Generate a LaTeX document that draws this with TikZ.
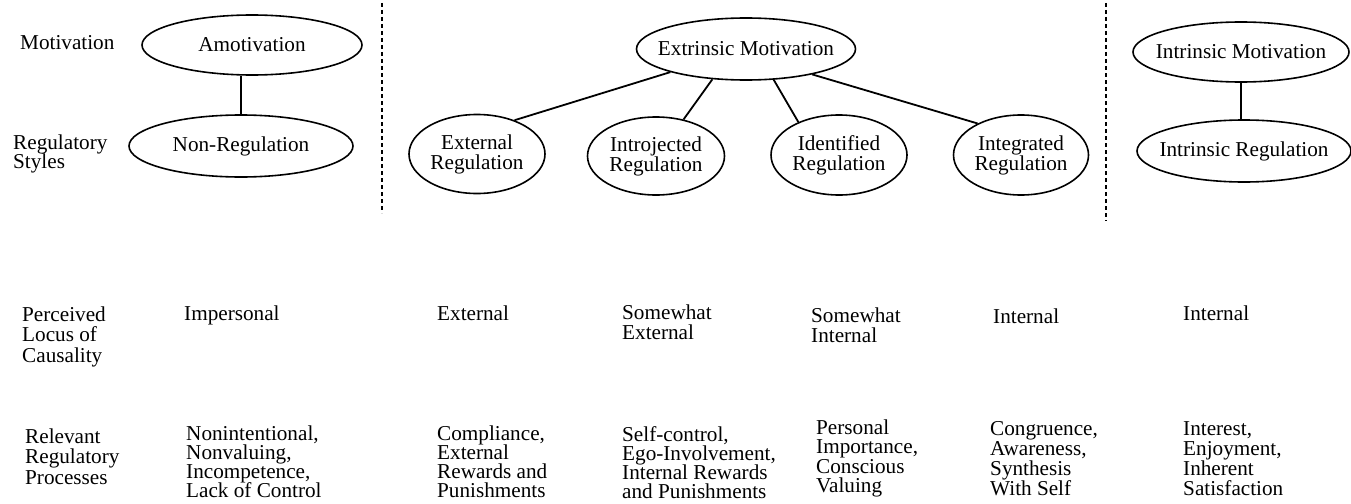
\documentclass[tikz,border=0pt]{standalone}
\usepackage{fontspec}
\setmainfont{Liberation Serif}
\usetikzlibrary{shapes.geometric}
\newcommand{\stkl}[2]{\vtop{\baselineskip=#1pt\lineskiplimit=-100pt\lineskip=0pt\halign{##\hfil\cr#2\crcr}}}
\newcommand{\stkc}[2]{\vtop{\baselineskip=#1pt\lineskiplimit=-100pt\lineskip=0pt\halign{\hfil##\hfil\cr#2\crcr}}}
\begin{document}
\begin{tikzpicture}[x=1pt,y=-1pt,
  every node/.style={inner sep=0pt, font=\fontsize{21.2}{20}\selectfont},
  oval/.style={ellipse, draw, line width=1.6pt},
  txt/.style={anchor=base west},
  link/.style={line width=1.8pt},
  sep/.style={line width=1.2pt, dash pattern=on 4pt off 3pt}]
\useasboundingbox (0,0) rectangle (1351,503);
% separators
\coordinate (s1a) at (382,3);
\coordinate (s1b) at (382,213);
\coordinate (s2a) at (1106,3);
\coordinate (s2b) at (1106,221);
\draw[sep] (s1a) -- (s1b);
\draw[sep] (s2a) -- (s2b);
% ellipses
\node[oval, minimum width=220pt, minimum height=60pt] (am) at (252,45) {\makebox[0pt]{Amotivation}};
\node[oval, minimum width=224pt, minimum height=62pt] (nr) at (241,146) {\makebox[0pt]{Non-Regulation}};
\node[oval, minimum width=219pt, minimum height=62pt] (em) at (746,49) {\makebox[0pt]{Extrinsic Motivation}};
\node[oval, minimum width=136pt, minimum height=79pt] (ext) at (477,154) {\makebox[0pt]{\stkc{20}{External\cr Regulation}}};
\node[oval, minimum width=137pt, minimum height=78pt] (intro) at (656,156) {\makebox[0pt]{\stkc{20}{Introjected\cr Regulation}}};
\node[oval, minimum width=136pt, minimum height=80pt] (ident) at (839,155) {\makebox[0pt]{\stkc{20}{Identified\cr Regulation}}};
\node[oval, minimum width=135pt, minimum height=80pt] (integ) at (1021,155) {\makebox[0pt]{\stkc{20}{Integrated\cr Regulation}}};
\node[oval, minimum width=216pt, minimum height=60pt] (im) at (1241,52) {\makebox[0pt]{Intrinsic Motivation}};
\node[oval, minimum width=214pt, minimum height=62pt] (ir) at (1244,151) {\makebox[0pt]{Intrinsic Regulation}};
% connectors
\draw[link] (nr.north) -- (nr.north |- am.south);
\draw[link] (im.south) -- (im.south |- ir.north);
\draw[link] (em.197.5) -- (ext.42);
\draw[link] (em.222) -- (intro.53);
\draw[link] (em.312) -- (ident.141);
\draw[link] (em.339) -- (integ.144);
% row labels
\node[txt] (lmot) at (20,50) {Motivation};
\node[txt] (lreg) at (13,149) {\stkl{19.5}{Regulatory\cr Styles}};
\node[txt] (lloc) at (22,321) {\stkl{20.5}{Perceived\cr Locus of\cr Causality}};
\node[txt] (lproc) at (25,443) {\stkl{20.5}{Relevant\cr Regulatory\cr Processes}};
% locus row
\node[txt] (c1) at (184,320) {Impersonal};
\node[txt] (c2) at (437,320) {External};
\node[txt] (c3) at (622,319) {\stkl{20}{Somewhat\cr External}};
\node[txt] (c4) at (811,322) {\stkl{20}{Somewhat\cr Internal}};
\node[txt] (c5) at (993,323) {Internal};
\node[txt] (c6) at (1183,320) {Internal};
% processes row
\node[txt] (p1) at (186,440) {\stkl{19.3}{Nonintentional,\cr Nonvaluing,\cr Incompetence,\cr Lack of Control}};
\node[txt] (p2) at (437,440) {\stkl{19.3}{Compliance,\cr External\cr Rewards and\cr Punishments}};
\node[txt] (p3) at (622,441) {\stkl{19.3}{Self-control,\cr Ego-Involvement,\cr Internal Rewards\cr and Punishments}};
\node[txt] (p4) at (816,434) {\stkl{19.5}{Personal\cr Importance,\cr Conscious\cr Valuing}};
\node[txt] (p5) at (990,435) {\stkl{20}{Congruence,\cr Awareness,\cr Synthesis\cr With Self}};
\node[txt] (p6) at (1183,435) {\stkl{20}{Interest,\cr Enjoyment,\cr Inherent\cr Satisfaction}};
\end{tikzpicture}
\end{document}
